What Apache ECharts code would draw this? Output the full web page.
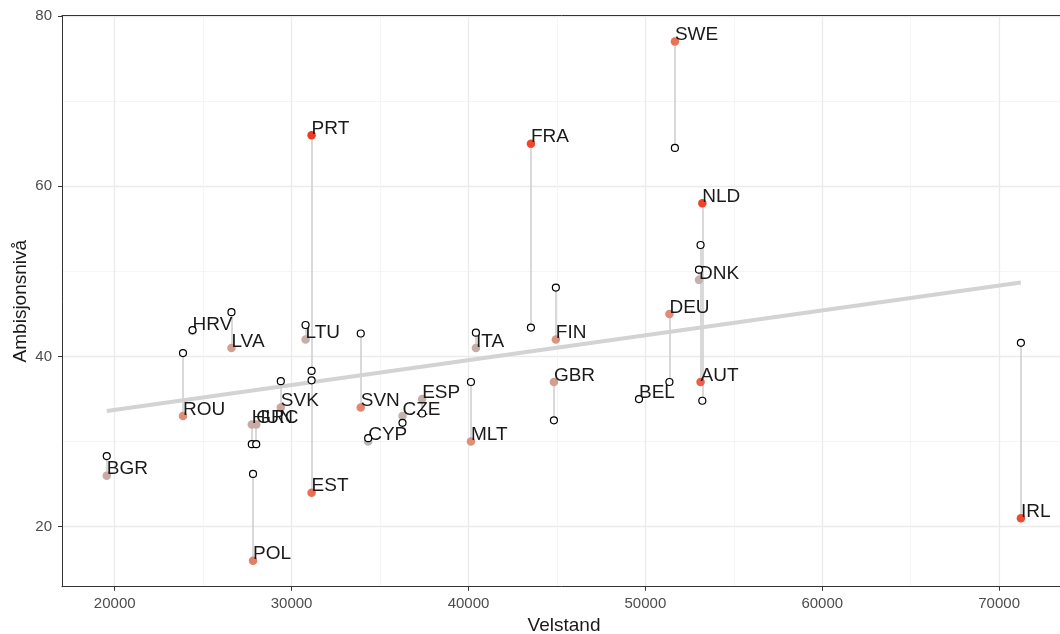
<!DOCTYPE html>
<html>
<head>
<meta charset="utf-8">
<script src="https://cdn.jsdelivr.net/npm/echarts@6/dist/echarts.min.js"></script>
<style>
html,body{margin:0;padding:0;background:#fff;}
#chart{width:1060px;height:634px;}
</style>
</head>
<body>
<div id="chart"></div>
<script>
// ---- data ----
const countries = ['BGR','ROU','HRV','LVA','LTU','SVK','POL','EST','PRT','HUN','GRC','SVN','ESP','CZE','CYP','MLT','ITA','FRA','FIN','GBR','SWE','BEL','DEU','NLD','DNK','AUT','IRL'];
const velstand = [19550,23860,24400,26600,30790,29390,27820,31130,31130,27750,28000,33910,37380,36270,34330,40140,40420,43530,44940,44830,51670,49640,51360,53220,53030,53120,71230];
const ambisjon = [26,33,43,41,42,34,16,24,66,32,32,34,35,33,30,30,41,65,42,37,77,35,45,58,49,37,21];
const referanse = [28.3,40.4,43.1,45.2,43.7,37.1,26.2,37.2,38.3,29.7,29.7,42.7,33.3,32.2,30.4,37.0,42.8,43.4,48.1,32.5,64.5,35.0,37.0,34.8,50.2,53.1,41.6];
const trendX = [19550, 71230];
const trendY = [33.6, 48.7];
const xMajorTicks = [20000,30000,40000,50000,60000,70000];
const xMinorTicks = [25000,35000,45000,55000,65000];
const yMajorTicks = [20,40,60,80];
const yMinorTicks = [30,50,70];

const chart = echarts.init(document.getElementById('chart'), null, {renderer:'canvas'});
const FONT = 'Liberation Sans, Arial, Helvetica, sans-serif';

const filledData = countries.map((c,i)=>({name:c, value:[velstand[i], ambisjon[i], Math.abs(ambisjon[i]-referanse[i])]}));
const hollowData = countries.map((c,i)=>({name:c, value:[velstand[i], referanse[i]]}));
const segData = countries.map((c,i)=>({coords:[[velstand[i], ambisjon[i]],[velstand[i], referanse[i]]]}));

const xMin = 17020, xMax = 73780, yMin = 12.95, yMax = 80.05;
const frameLine = {show:true, onZero:false, lineStyle:{color:'#333333', width:1}};

const option = {
  animation:false,
  backgroundColor:'#ffffff',
  grid:{left:62, top:15.6, width:1004, height:571.1, outerBoundsMode:'none', containLabel:false, show:false},
  visualMap:{type:'continuous', show:false, seriesIndex:2, dimension:2, min:0, max:28,
    inRange:{color:['#bdb9b8','#df8f7a','#ec6a4d','#f0492d','#f03a20']}},
  xAxis:[
    {type:'value', min:xMin, max:xMax, position:'bottom',
     name:'Velstand', nameLocation:'middle', nameGap:27,
     nameTextStyle:{fontFamily:FONT, fontSize:19, color:'#1a1a1a'},
     axisLine:frameLine,
     axisTick:{show:true, length:4, customValues:xMajorTicks, lineStyle:{color:'#333333', width:1}},
     axisLabel:{customValues:xMajorTicks, formatter:(v)=>String(v), fontFamily:FONT, fontSize:15, color:'#4d4d4d', margin:10},
     splitLine:{show:true, lineStyle:{color:'#ebebeb', width:1.3}}},
    {type:'value', min:xMin, max:xMax, position:'top', show:true,
     axisLine:frameLine, axisLabel:{show:false},
     axisTick:{show:false, customValues:xMinorTicks},
     splitLine:{show:true, lineStyle:{color:'#f2f2f2', width:0.8}}}
  ],
  yAxis:[
    {type:'value', min:yMin, max:yMax, position:'left',
     name:'Ambisjonsnivå', nameLocation:'middle', nameGap:32, nameMoveOverlap:false,
     nameTextStyle:{fontFamily:FONT, fontSize:19, color:'#1a1a1a'},
     axisLine:frameLine,
     axisTick:{show:true, length:4, customValues:yMajorTicks, lineStyle:{color:'#333333', width:1}},
     axisLabel:{customValues:yMajorTicks, fontFamily:FONT, fontSize:15, color:'#4d4d4d', margin:10},
     splitLine:{show:true, lineStyle:{color:'#ebebeb', width:1.3}}},
    {type:'value', min:yMin, max:yMax, position:'left', show:true,
     axisLine:{show:false}, axisLabel:{show:false},
     axisTick:{show:false, customValues:yMinorTicks},
     splitLine:{show:true, lineStyle:{color:'#f2f2f2', width:0.8}}}
  ],
  series:[
    {type:'lines', coordinateSystem:'cartesian2d', xAxisIndex:0, yAxisIndex:0, silent:true, z:2,
     data:segData, lineStyle:{color:'#cccccc', width:1.5, opacity:1}},
    {type:'line', xAxisIndex:0, yAxisIndex:0, silent:true, z:3, symbol:'none',
     data:trendX.map((x,i)=>[x, trendY[i]]), lineStyle:{color:'#d3d3d3', width:4}},
    {type:'scatter', xAxisIndex:0, yAxisIndex:0, z:4, symbolSize:8.5, data:filledData,
     itemStyle:{opacity:1},
     label:{show:true, formatter:'{b}', position:['50%','50%'], align:'left', verticalAlign:'bottom', offset:[0,3],
       fontFamily:FONT, fontSize:19, color:'#1a1a1a'}},
    {type:'scatter', xAxisIndex:0, yAxisIndex:0, z:5, symbolSize:7, data:hollowData,
     itemStyle:{color:'#ffffff', borderColor:'#000000', borderWidth:1.2, opacity:1}}
  ]
};
chart.setOption(option);
</script>
</body>
</html>
